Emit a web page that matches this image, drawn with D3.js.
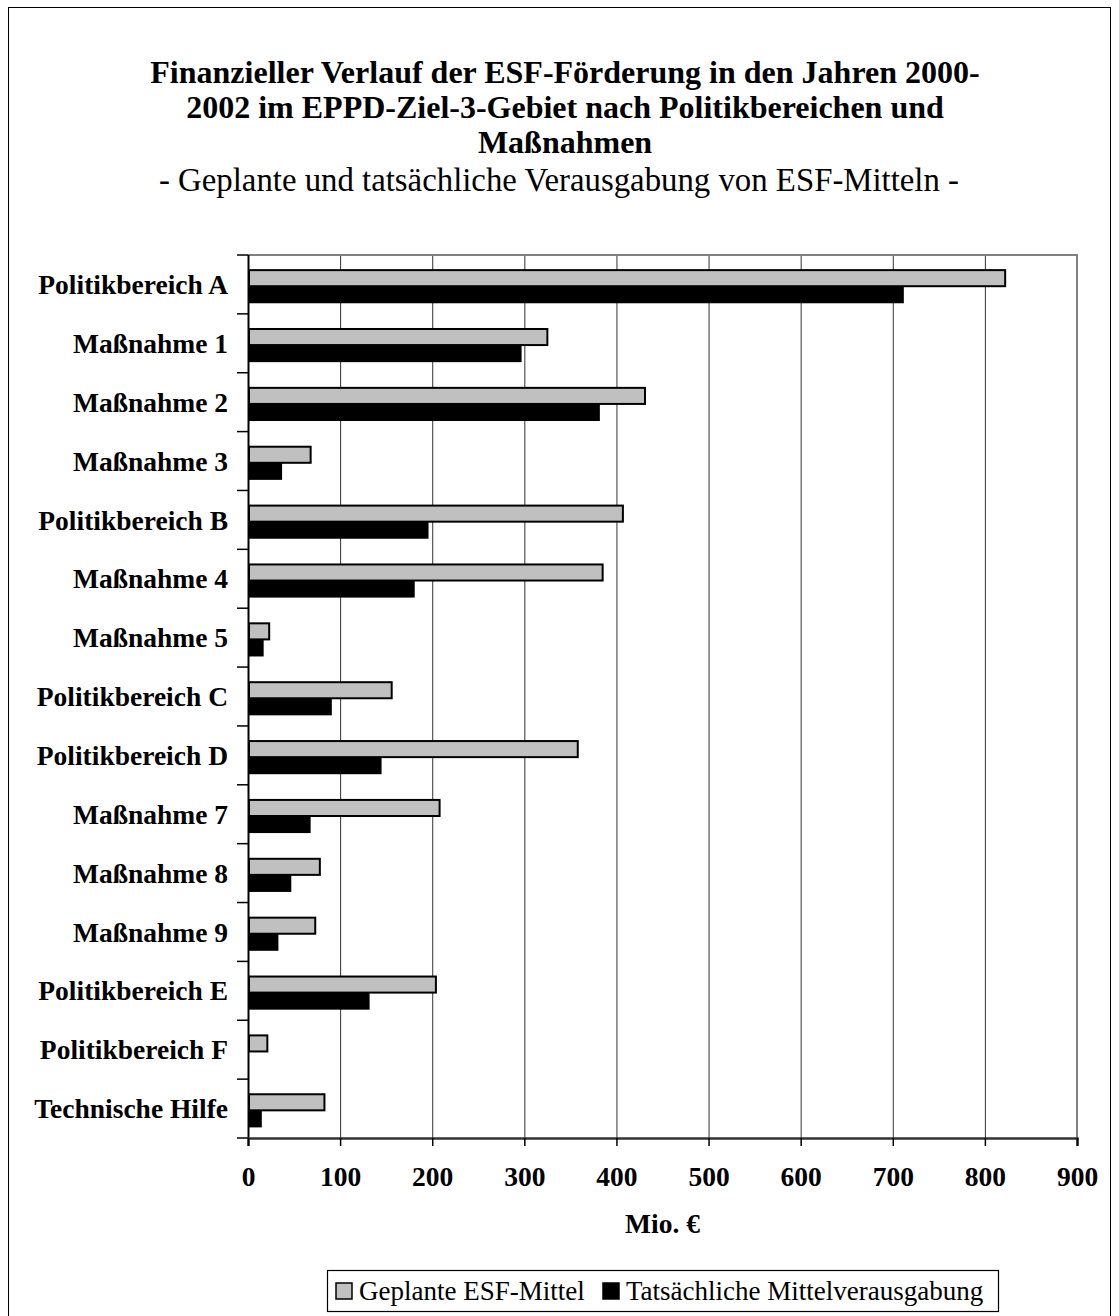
<!DOCTYPE html>
<html><head><meta charset="utf-8">
<script src="https://cdn.jsdelivr.net/npm/d3@7"></script>
<style>
html,body{margin:0;padding:0;background:#fff;}
svg{display:block;font-family:"Liberation Serif","Times New Roman",serif;}
</style></head>
<body>
<svg id="chart" width="1119" height="1316"></svg>
<script>
const categories = ["Politikbereich A","Maßnahme 1","Maßnahme 2","Maßnahme 3","Politikbereich B","Maßnahme 4","Maßnahme 5","Politikbereich C","Politikbereich D","Maßnahme 7","Maßnahme 8","Maßnahme 9","Politikbereich E","Politikbereich F","Technische Hilfe"];
const seriesNames = ["Geplante ESF-Mittel","Tatsächliche Mittelverausgabung"];
const planned = [822, 325, 431, 68, 407, 385, 23, 156, 358, 208, 78, 73, 204, 21, 83];
const actual  = [712, 297, 382, 37, 196, 181, 17, 91, 145, 68, 47, 33, 132, 0, 15];
const xTicks = [0,100,200,300,400,500,600,700,800,900];
const titleLines = ["Finanzieller Verlauf der ESF-Förderung in den Jahren 2000-","2002 im EPPD-Ziel-3-Gebiet nach Politikbereichen und","Maßnahmen"];
const subtitle = "- Geplante und tatsächliche Verausgabung von ESF-Mitteln -";
const xTitle = "Mio. €";
const colors = ["#c0c0c0","#000000"];

const svg = d3.select("#chart");
// outer frame
svg.append("rect").attr("x",8.5).attr("y",7.5).attr("width",1102).attr("height",1320)
  .attr("fill","none").attr("stroke","#000").attr("stroke-width",1);

// titles
titleLines.forEach((t,i)=>{
  svg.append("text").attr("x",565).attr("y",83+i*35).attr("text-anchor","middle")
    .attr("font-weight","bold").attr("font-size",32).text(t);
});
svg.append("text").attr("x",559).attr("y",191).attr("text-anchor","middle")
  .attr("font-size",32.8).text(subtitle);

const L=248, R=1077, T=255, B=1138;
const x = d3.scaleLinear().domain([0,900]).range([L,R]);
const y = d3.scaleBand().domain(categories).range([T,B]).padding(0);
const bw = y.bandwidth();
const ys = d3.scaleBand().domain(seriesNames).range([bw*0.24, bw*0.82]).padding(0);

// gridlines
svg.append("g").selectAll("line").data(xTicks.slice(1,-1)).join("line")
  .attr("x1",d=>x(d)+0.5).attr("x2",d=>x(d)+0.5).attr("y1",T).attr("y2",B)
  .attr("stroke","#333").attr("stroke-width",1);
// plot border top/right
svg.append("path").attr("d",`M${L},${T}H${R}V${B}`).attr("fill","none")
  .attr("stroke","#808080").attr("stroke-width",2);

// bars
const data = categories.map((c,i)=>({c, vals:[planned[i], actual[i]]}));
const g = svg.append("g");
data.forEach(d=>{
  d.vals.forEach((v,j)=>{
    if (v<=0) return;
    const sn = seriesNames[j];
    if (j===0) {
      g.append("rect").attr("x",x(0)+1).attr("y",y(d.c)+ys(sn)+1)
        .attr("width",x(v)-x(0)-1).attr("height",ys.bandwidth()-1)
        .attr("fill",colors[0]).attr("stroke","#000").attr("stroke-width",2);
    } else {
      g.append("rect").attr("x",x(0)).attr("y",y(d.c)+ys(sn))
        .attr("width",x(v)-x(0)).attr("height",ys.bandwidth())
        .attr("fill",colors[1]);
    }
  });
});

// y axis
const yAxis = svg.append("g").attr("transform",`translate(${L},0)`);
yAxis.append("line").attr("x1",0.5).attr("x2",0.5).attr("y1",T).attr("y2",B).attr("stroke","#000").attr("stroke-width",2);
const yEdges = categories.map(c=>y(c)).concat([B]);
yAxis.selectAll("line.tk").data(yEdges).join("line").attr("class","tk")
  .attr("x1",-11).attr("x2",0).attr("y1",d=>d).attr("y2",d=>d).attr("stroke","#000").attr("stroke-width",1.5);
yAxis.selectAll("text").data(categories).join("text")
  .attr("x",-20).attr("y",c=>y(c)+bw/2).attr("dy","0.35em").attr("text-anchor","end")
  .attr("font-weight","bold").attr("font-size",27.5).text(c=>c);

// x axis
const xAxis = svg.append("g").attr("transform",`translate(0,${B})`)
  .call(d3.axisBottom(x).tickValues(xTicks).tickSize(8).tickPadding(20).tickFormat(d3.format("d")));
xAxis.select(".domain").attr("stroke","#333").attr("stroke-width",2.5);
xAxis.selectAll(".tick line").attr("stroke","#000").attr("stroke-width",1.5);
xAxis.selectAll(".tick text").attr("font-family","Liberation Serif, serif")
  .attr("font-weight","bold").attr("font-size",27.5).attr("fill","#000");

svg.append("text").attr("x",(L+R)/2).attr("y",1233).attr("text-anchor","middle")
  .attr("font-weight","bold").attr("font-size",27.5).text(xTitle);

// legend
const lg = svg.append("g");
lg.append("rect").attr("x",327.5).attr("y",1270.5).attr("width",671).attr("height",41)
  .attr("fill","#fff").attr("stroke","#000").attr("stroke-width",1.2);
const legX = [336, 603];
seriesNames.forEach((s,i)=>{
  lg.append("rect").attr("x",legX[i]).attr("y",1283).attr("width",16).attr("height",16)
    .attr("fill",colors[i]).attr("stroke","#000").attr("stroke-width",1.5);
  lg.append("text").attr("x",legX[i]+23).attr("y",1300).attr("font-size",27).text(s);
});
</script>
</body></html>
